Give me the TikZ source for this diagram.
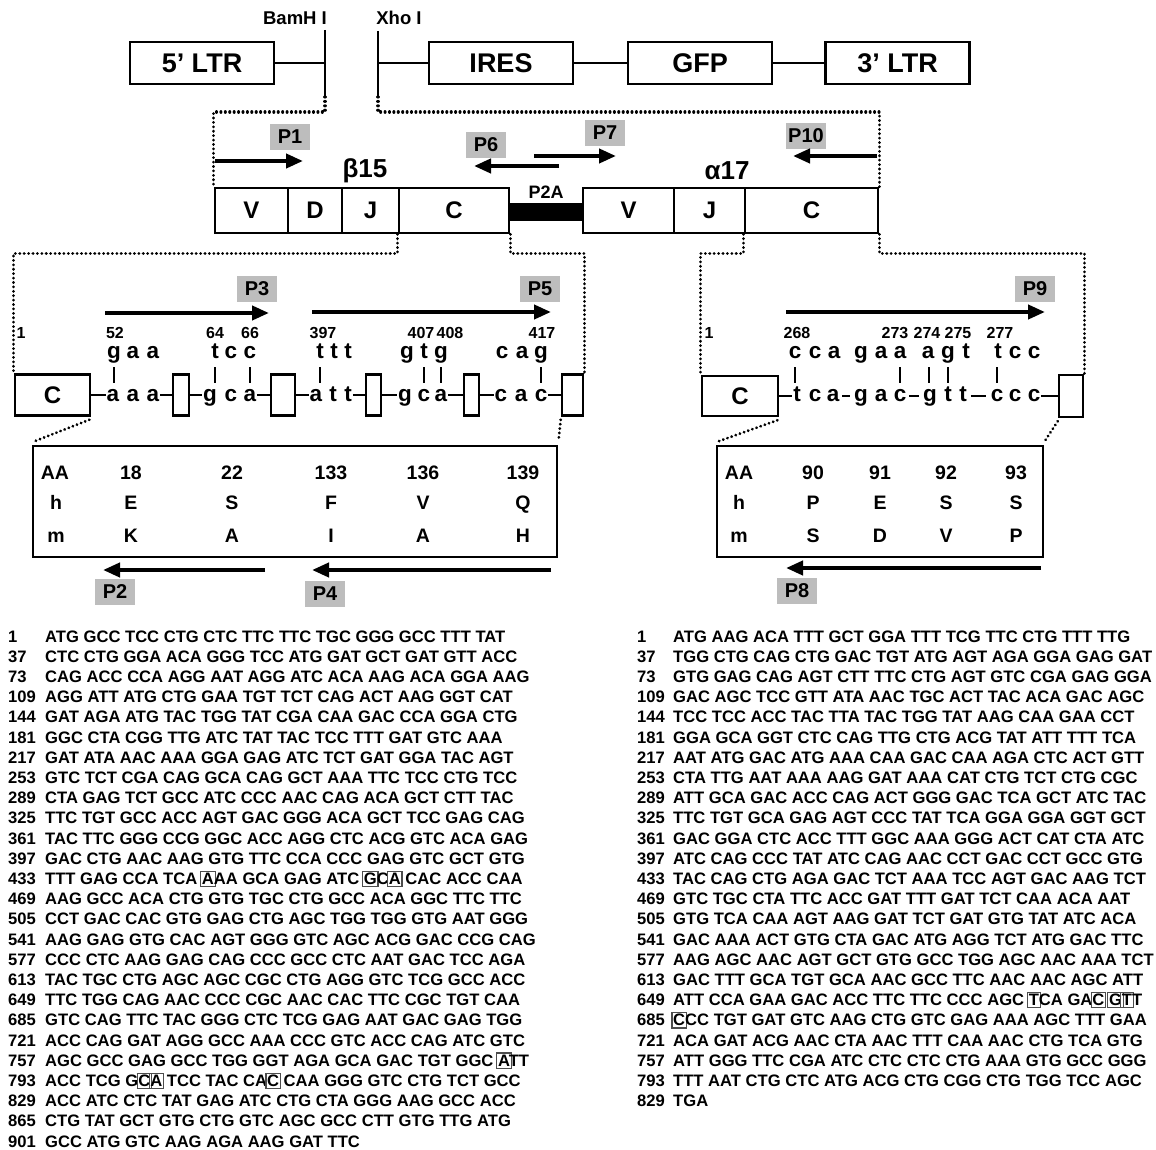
\documentclass[tikz,border=0pt]{standalone}
\usepackage{fontspec}
\setmainfont{Liberation Sans}
\usetikzlibrary{arrows.meta,calc}
\newcommand\bxl[1]{\rlap{\hskip-1.8pt{\color{black!70}\setlength\fboxsep{0.6pt}\setlength\fboxrule{1.2pt}\fbox{\rule[-1pt]{0pt}{13pt}\phantom{#1}}}}#1}
\begin{document}
\begin{tikzpicture}[x=1pt,y=-1pt,
  topbox/.style={draw, line width=2.8pt, minimum width=144pt, minimum height=42pt, inner sep=0pt, font=\fontsize{27}{27}\selectfont\bfseries},
  site/.style={inner sep=0pt, font=\fontsize{18.5}{18.5}\selectfont\bfseries},
  linkln/.style={line width=1.5pt},
  dots/.style={line width=3.1pt, line cap=round, dash pattern=on 0.01pt off 4.4pt},
  seg/.style={draw, line width=2.6pt, minimum height=45pt, inner sep=0pt, font=\fontsize{24}{24}\selectfont\bfseries},
  plab/.style={fill=black!26, minimum width=40pt, minimum height=26pt, inner sep=0pt, font=\fontsize{20}{20}\selectfont\bfseries},
  primer/.style={line width=4pt, -{Triangle[length=17pt,width=14pt]}},
  gname/.style={inner sep=0pt, font=\fontsize{26}{26}\selectfont\bfseries},
  exbox/.style={draw, line width=2.6pt, minimum height=41pt, inner sep=0pt},
  ltr/.style={anchor=base, inner sep=1pt, font=\fontsize{22.5}{22.5}\selectfont\bfseries},
  posn/.style={anchor=base, inner sep=0pt, font=\fontsize{16}{16}\selectfont\bfseries},
  tickln/.style={line width=1.6pt},
  exln/.style={line width=2pt},
  tbl/.style={draw, line width=2.8pt, inner sep=0pt},
  tabtxt/.style={anchor=base, inner sep=0pt, font=\fontsize{19.5}{19.5}\selectfont\bfseries},
  seq/.style={anchor=base west, inner sep=0pt, font=\fontsize{16.6}{16.6}\selectfont\bfseries},
]
\useasboundingbox (0,0) rectangle (1156,1150);

% ---------- vector ----------
\node[topbox] (ltr5) at (202,63) {5’ LTR};
\node[topbox] (ires) at (501,63) {IRES};
\node[topbox] (gfp) at (700,63) {GFP};
\node[topbox] (ltr3) at (897.5,63) {3’ LTR};
\node[site] (bam) at (295,18) {BamH I};
\node[site] (xho) at (399,18) {Xho I};
\coordinate (bamT) at (325,30);
\coordinate (bamB) at (325,97);
\coordinate (xhoT) at (378,31);
\coordinate (xhoB) at (378,97);
\draw[linkln] (bamT) -- (bamB);
\draw[linkln] (xhoT) -- (xhoB);
\draw[linkln] (ltr5.east) -- (ltr5.east -| bamT);
\draw[linkln] (ires.west -| xhoT) -- (ires.west);
\draw[linkln] (ires.east) -- (gfp.west);
\draw[linkln] (gfp.east) -- (ltr3.west);

% ---------- construct ----------
\node[seg, minimum width=73pt] (vb) at (251.5,210.5) {V};
\node[seg, minimum width=54pt] (db) at (315,210.5) {D};
\node[seg, minimum width=57pt] (jb) at (370.5,210.5) {J};
\node[seg, minimum width=110pt] (cL) at (454,210.5) {C};
\node[seg, minimum width=91pt] (va) at (628.5,210.5) {V};
\node[seg, minimum width=71pt] (ja) at (709.5,210.5) {J};
\node[seg, minimum width=133pt] (cR) at (811.5,210.5) {C};
\node[fill=black, minimum width=74pt, minimum height=18pt, inner sep=0pt] (p2a) at (546,212) {};
\node[inner sep=0pt, font=\fontsize{18}{18}\selectfont\bfseries] (p2alab) at (546,192) {P2A};
\node[gname] (b15) at (365,171) {β15};
\node[gname] (a17) at (727,171) {α17};

\draw[dots] (bamB) -- ++(0,15) -| (vb.north west);
\draw[dots] (xhoB) -- ++(0,15) -| (cR.north east);

% primers on construct
\node[plab] (p1) at (290,137) {P1};
\node[plab] (p6) at (486,145) {P6};
\node[plab] (p7) at (605,133) {P7};
\node[plab] (p10) at (806,136) {P10};
\coordinate (a1s) at (215,161); \coordinate (a1e) at (303,161);
\coordinate (a6s) at (559,166); \coordinate (a6e) at (474,166);
\coordinate (a7s) at (534,156); \coordinate (a7e) at (616,156);
\coordinate (a10s) at (877,156); \coordinate (a10e) at (793,156);
\draw[primer] (a1s) -- (a1e);
\draw[primer] (a6s) -- (a6e);
\draw[primer] (a7s) -- (a7e);
\draw[primer] (a10s) -- (a10e);

% ---------- beta exon detail ----------
\node[exbox, minimum width=75pt, font=\fontsize{24}{24}\selectfont\bfseries] (cb) at (52.5,395) {C};
\node[exbox, minimum width=16pt] (sb1) at (181,395) {};
\node[exbox, minimum width=24pt] (sb2) at (283,395) {};
\node[exbox, minimum width=15pt] (sb3) at (373.5,395) {};
\node[exbox, minimum width=15pt] (sb4) at (471.5,395) {};
\node[exbox, minimum width=21pt] (sb5) at (572.5,395) {};
\draw[dots] (cL.south west) -- ++(0,19) -| (cb.north west);
\draw[dots] (cL.south east) -- ++(0,19) -| (sb5.north east);

\foreach \x/\c [count=\k] in {114/g,133/a,153/a,215/t,231/c,250/c,320/t,334/t,348/t,407/g,424/t,441/g,502/c,522/a,541/g}
  \node[ltr] (lu\k) at (\x,358) {\c};
\foreach \x/\c [count=\k] in {113/a,133/a,153/a,210/g,231/c,250/a,316/a,333/t,348/t,405/g,424/c,441/a,501/c,521/a,541/c}
  \node[ltr] (ll\k) at (\x,401) {\c};
\foreach \x/\c [count=\k] in {21/1,115/52,215/64,250/66,323/397,421/407,450/408,542/417}
  \node[posn] (lp\k) at (\x,338) {\c};
\foreach \x in {114,215,250,320,424,441,541}
  \draw[tickln] (\x,367) -- (\x,383);
\draw[exln] (cb.east) -- (cb.east -| ll1.west);
\draw[exln] (sb1.west -| ll3.east) -- (sb1.west);
\draw[exln] (sb1.east) -- (sb1.east -| ll4.west);
\draw[exln] (sb2.west -| ll6.east) -- (sb2.west);
\draw[exln] (sb2.east) -- (sb2.east -| ll7.west);
\draw[exln] (sb3.west -| ll9.east) -- (sb3.west);
\draw[exln] (sb3.east) -- (sb3.east -| ll10.west);
\draw[exln] (sb4.west -| ll12.east) -- (sb4.west);
\draw[exln] (sb4.east) -- (sb4.east -| ll13.west);
\draw[exln] (sb5.west -| ll15.east) -- (sb5.west);

\node[plab] (p3) at (257,289) {P3};
\node[plab] (p5) at (540,289) {P5};
\coordinate (a3s) at (105,313); \coordinate (a3e) at (269,313);
\coordinate (a5s) at (312,312); \coordinate (a5e) at (551,312);
\draw[primer] (a3s) -- (a3e);
\draw[primer] (a5s) -- (a5e);

\node[tbl, minimum width=524pt, minimum height=111pt] (tabL) at (295,501.5) {};
\draw[dots] ($(cb.south east)+(-2,3)$) -- ($(tabL.north west)+(2,-3)$);
\draw[dots] ($(sb5.south west)+(0,3)$) -- ($(tabL.north east)+(0,-3)$);
\foreach \x/\t [count=\k] in {55/AA,131/18,232/22,331/133,423/136,523/139}
  \node[tabtxt] (ta\k) at (\x,479) {\t};
\foreach \x/\t [count=\k] in {56/h,131/E,232/S,331/F,423/V,523/Q}
  \node[tabtxt] (th\k) at (\x,509) {\t};
\foreach \x/\t [count=\k] in {56/m,131/K,232/A,331/I,423/A,523/H}
  \node[tabtxt] (tm\k) at (\x,542) {\t};

\node[plab] (p2) at (115,592) {P2};
\node[plab] (p4) at (325,594) {P4};
\coordinate (a2s) at (265,570); \coordinate (a2e) at (103,570);
\coordinate (a4s) at (551,570); \coordinate (a4e) at (312,570);
\draw[primer] (a2s) -- (a2e);
\draw[primer] (a4s) -- (a4e);

% ---------- alpha exon detail ----------
\node[exbox, minimum width=76pt, minimum height=40pt, font=\fontsize{24}{24}\selectfont\bfseries] (cb2) at (740,396) {C};
\node[exbox, minimum width=24pt, minimum height=42pt] (sbr) at (1071,396) {};
\draw[dots] (cR.south west) -- ++(0,19) -| (cb2.north west);
\draw[dots] (cR.south east) -- ++(0,19) -| (sbr.north east);

\foreach \x/\c [count=\k] in {795/c,815/c,834/a,861/g,881/a,900/a,928/a,948/g,966/t,998/t,1015/c,1034/c}
  \node[ltr] (ru\k) at (\x,358) {\c};
\foreach \x/\c [count=\k] in {797/t,815/c,833/a,861/g,881/a,900/c,930/g,948/t,963/t,997/c,1015/c,1034/c}
  \node[ltr] (rl\k) at (\x,401) {\c};
\foreach \x/\c [count=\k] in {709/1,797/268,895/273,927/274,958/275,1000/277}
  \node[posn] (rp\k) at (\x,338) {\c};
\foreach \x in {795,900,929,948,997}
  \draw[tickln] (\x,367) -- (\x,383);
\draw[exln] (cb2.east) -- (cb2.east -| rl1.west);
\draw[exln, shorten <=2pt, shorten >=3pt] (cb2.east -| rl3.east) -- (cb2.east -| rl4.west);
\draw[exln, shorten <=2pt, shorten >=3pt] (cb2.east -| rl6.east) -- (cb2.east -| rl7.west);
\draw[exln, shorten <=3pt, shorten >=4pt] (cb2.east -| rl9.east) -- (cb2.east -| rl10.west);
\draw[exln] (sbr.west -| rl12.east) -- (sbr.west);

\node[plab] (p9) at (1035,289) {P9};
\coordinate (a9s) at (786,312); \coordinate (a9e) at (1045,312);
\draw[primer] (a9s) -- (a9e);

\node[tbl, minimum width=326pt, minimum height=111pt] (tabR) at (880,501.5) {};
\draw[dots] ($(cb2.south east)+(-2,3)$) -- ($(tabR.north west)+(2,-3)$);
\draw[dots] ($(sbr.south west)+(0,3)$) -- ($(tabR.north east)+(0,-3)$);
\foreach \x/\t [count=\k] in {739/AA,813/90,880/91,946/92,1016/93}
  \node[tabtxt] (ra\k) at (\x,479) {\t};
\foreach \x/\t [count=\k] in {739/h,813/P,880/E,946/S,1016/S}
  \node[tabtxt] (rh\k) at (\x,509) {\t};
\foreach \x/\t [count=\k] in {739/m,813/S,880/D,946/V,1016/P}
  \node[tabtxt] (rm\k) at (\x,542) {\t};

\node[plab] (p8) at (797,591) {P8};
\coordinate (a8s) at (1041,568); \coordinate (a8e) at (786,568);
\draw[primer] (a8s) -- (a8e);

% ---------- sequences ----------
\foreach \n/\t [count=\i from 0] in {
1/{ATG GCC TCC CTG CTC TTC TTC TGC GGG GCC TTT TAT},
37/{CTC CTG GGA ACA GGG TCC ATG GAT GCT GAT GTT ACC},
73/{CAG ACC CCA AGG AAT AGG ATC ACA AAG ACA GGA AAG},
109/{AGG ATT ATG CTG GAA TGT TCT CAG ACT AAG GGT CAT},
144/{GAT AGA ATG TAC TGG TAT CGA CAA GAC CCA GGA CTG},
181/{GGC CTA CGG TTG ATC TAT TAC TCC TTT GAT GTC AAA},
217/{GAT ATA AAC AAA GGA GAG ATC TCT GAT GGA TAC AGT},
253/{GTC TCT CGA CAG GCA CAG GCT AAA TTC TCC CTG TCC},
289/{CTA GAG TCT GCC ATC CCC AAC CAG ACA GCT CTT TAC},
325/{TTC TGT GCC ACC AGT GAC GGG ACA GCT TCC GAG CAG},
361/{TAC TTC GGG CCG GGC ACC AGG CTC ACG GTC ACA GAG},
397/{GAC CTG AAC AAG GTG TTC CCA CCC GAG GTC GCT GTG},
433/{TTT GAG CCA TCA \bxl{A}AA GCA GAG ATC \bxl{G}C\bxl{A} CAC ACC CAA},
469/{AAG GCC ACA CTG GTG TGC CTG GCC ACA GGC TTC TTC},
505/{CCT GAC CAC GTG GAG CTG AGC TGG TGG GTG AAT GGG},
541/{AAG GAG GTG CAC AGT GGG GTC AGC ACG GAC CCG CAG},
577/{CCC CTC AAG GAG CAG CCC GCC CTC AAT GAC TCC AGA},
613/{TAC TGC CTG AGC AGC CGC CTG AGG GTC TCG GCC ACC},
649/{TTC TGG CAG AAC CCC CGC AAC CAC TTC CGC TGT CAA},
685/{GTC CAG TTC TAC GGG CTC TCG GAG AAT GAC GAG TGG},
721/{ACC CAG GAT AGG GCC AAA CCC GTC ACC CAG ATC GTC},
757/{AGC GCC GAG GCC TGG GGT AGA GCA GAC TGT GGC \bxl{A}TT},
793/{ACC TCG G\bxl{C}\bxl{A} TCC TAC CA\bxl{C} CAA GGG GTC CTG TCT GCC},
829/{ACC ATC CTC TAT GAG ATC CTG CTA GGG AAG GCC ACC},
865/{CTG TAT GCT GTG CTG GTC AGC GCC CTT GTG TTG ATG},
901/{GCC ATG GTC AAG AGA AAG GAT TTC}}
{
  \node[seq] (nL\i) at (8,{642+20.2*\i}) {\n};
  \node[seq] (sL\i) at (45,{642+20.2*\i}) {\t};
}

\foreach \n/\t [count=\i from 0] in {
1/{ATG AAG ACA TTT GCT GGA TTT TCG TTC CTG TTT TTG},
37/{TGG CTG CAG CTG GAC TGT ATG AGT AGA GGA GAG GAT},
73/{GTG GAG CAG AGT CTT TTC CTG AGT GTC CGA GAG GGA},
109/{GAC AGC TCC GTT ATA AAC TGC ACT TAC ACA GAC AGC},
144/{TCC TCC ACC TAC TTA TAC TGG TAT AAG CAA GAA CCT},
181/{GGA GCA GGT CTC CAG TTG CTG ACG TAT ATT TTT TCA},
217/{AAT ATG GAC ATG AAA CAA GAC CAA AGA CTC ACT GTT},
253/{CTA TTG AAT AAA AAG GAT AAA CAT CTG TCT CTG CGC},
289/{ATT GCA GAC ACC CAG ACT GGG GAC TCA GCT ATC TAC},
325/{TTC TGT GCA GAG AGT CCC TAT TCA GGA GGA GGT GCT},
361/{GAC GGA CTC ACC TTT GGC AAA GGG ACT CAT CTA ATC},
397/{ATC CAG CCC TAT ATC CAG AAC CCT GAC CCT GCC GTG},
433/{TAC CAG CTG AGA GAC TCT AAA TCC AGT GAC AAG TCT},
469/{GTC TGC CTA TTC ACC GAT TTT GAT TCT CAA ACA AAT},
505/{GTG TCA CAA AGT AAG GAT TCT GAT GTG TAT ATC ACA},
541/{GAC AAA ACT GTG CTA GAC ATG AGG TCT ATG GAC TTC},
577/{AAG AGC AAC AGT GCT GTG GCC TGG AGC AAC AAA TCT},
613/{GAC TTT GCA TGT GCA AAC GCC TTC AAC AAC AGC ATT},
649/{ATT CCA GAA GAC ACC TTC TTC CCC AGC \bxl{T}CA GA\bxl{C} \bxl{G}\bxl{T}T},
685/{\bxl{C}CC TGT GAT GTC AAG CTG GTC GAG AAA AGC TTT GAA},
721/{ACA GAT ACG AAC CTA AAC TTT CAA AAC CTG TCA GTG},
757/{ATT GGG TTC CGA ATC CTC CTC CTG AAA GTG GCC GGG},
793/{TTT AAT CTG CTC ATG ACG CTG CGG CTG TGG TCC AGC},
829/{TGA}}
{
  \node[seq] (nR\i) at (637,{642+20.2*\i}) {\n};
  \node[seq] (sR\i) at (673,{642+20.2*\i}) {\t};
}
\end{tikzpicture}
\end{document}
